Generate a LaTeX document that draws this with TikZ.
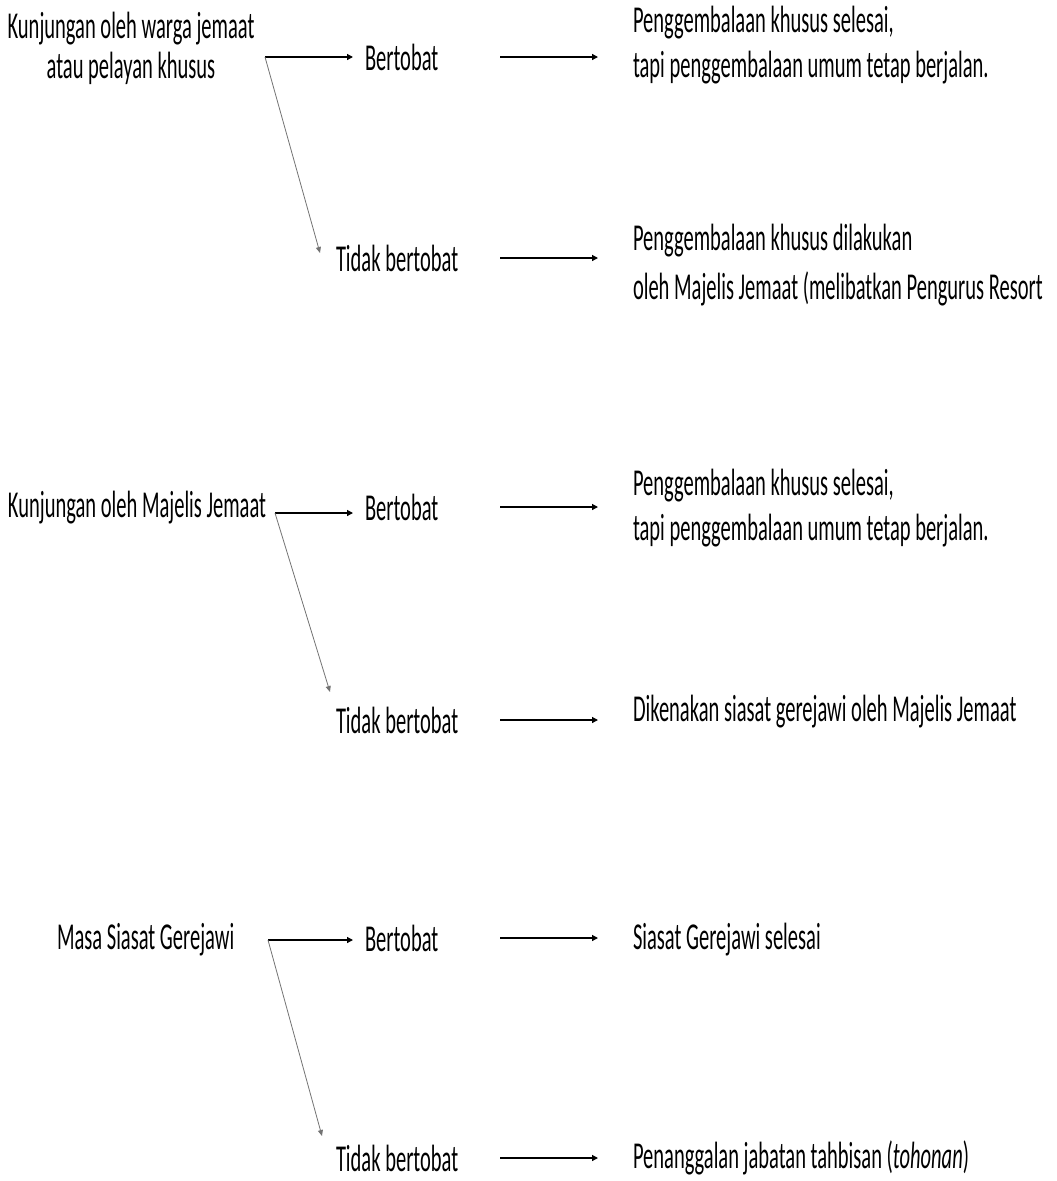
\documentclass[tikz,border=0pt]{standalone}
\usepackage{fontspec}
\setmainfont{Carlito}[FakeStretch=0.54]
\usepackage{tikz}
\usetikzlibrary{positioning}
\usetikzlibrary{arrows.meta}

\begin{document}
\begin{tikzpicture}[x=1pt,y=-1pt,every node/.style={inner sep=0,outer sep=0,font=\fontsize{38}{45}\selectfont},
	arr/.style={-{Triangle[length=6pt,width=6pt]},line width=1.3pt},
	diag/.style={-{Triangle[length=6pt,width=5pt]},line width=0.8pt,black!55}]
	\useasboundingbox (0,0) rectangle (1057,1181);
	% kunjungan oleh warga jemaat
	\node (k1) [align=center] at (131,48) {Kunjungan oleh warga jemaat\\[-5pt]atau pelayan khusus};
	\coordinate (f1) at (265,57);
	\node (b1) [anchor=west] at (365,57) {Bertobat};
	\node (t1) [anchor=west] at (336,258) {Tidak bertobat};
	\coordinate (d1) at (320,253);
	\node (r1) [anchor=west,align=left] at (633,45) {Penggembalaan khusus selesai,\\tapi penggembalaan umum tetap berjalan.};
	\node (r2) [anchor=west,align=left] at (633,265) {Penggembalaan khusus dilakukan\\[4pt]oleh Majelis Jemaat (melibatkan Pengurus Resort};
	% kunjungan oleh majelis jemaat
	\node (k2) [anchor=west] at (8,508) {Kunjungan oleh Majelis Jemaat};
	\coordinate (f2) at (275,513);
	\node (b2) [anchor=west] at (365,507) {Bertobat};
	\node (t2) [anchor=west] at (336,720) {Tidak bertobat};
	\coordinate (d2) at (330,692);
	\node (r3) [anchor=west,align=left] at (633,508) {Penggembalaan khusus selesai,\\tapi penggembalaan umum tetap berjalan.};
	\node (r4) [anchor=west] at (633,712) {Dikenakan siasat gerejawi oleh Majelis Jemaat};
	% masa siasat gerejawi
	\node (k3) [anchor=west] at (57,940) {Masa Siasat Gerejawi};
	\coordinate (f3) at (268,940);
	\node (b3) [anchor=west] at (365,938) {Bertobat};
	\node (t3) [anchor=west] at (336,1158) {Tidak bertobat};
	\coordinate (d3) at (322,1136);
	\node (r5) [anchor=west] at (633,940) {Siasat Gerejawi selesai};
	\node (r6) [anchor=west] at (633,1158) {Penanggalan jabatan tahbisan (\textit{tohonan})};
	\path[arr]
		(f1) edge ([xshift=-12pt]f1 -| b1.west)
		(f2) edge ([xshift=-12pt]f2 -| b2.west)
		(f3) edge ([xshift=-12pt]f3 -| b3.west)
		([xshift=500pt]b1.west -| 0,0) edge ([xshift=-35pt]b1.west -| r1.west)
		([xshift=500pt]t1.west -| 0,0) edge ([xshift=-35pt]t1.west -| r2.west)
		([xshift=500pt]b2.west -| 0,0) edge ([xshift=-35pt]b2.west -| r3.west)
		([xshift=500pt]t2.west -| 0,0) edge ([xshift=-35pt]t2.west -| r4.west)
		([xshift=500pt]b3.west -| 0,0) edge ([xshift=-35pt]b3.west -| r5.west)
		([xshift=500pt]t3.west -| 0,0) edge ([xshift=-35pt]t3.west -| r6.west);
	\path[diag]
		(f1) edge (d1)
		(f2) edge (d2)
		(f3) edge (d3);
\end{tikzpicture}
\end{document}
